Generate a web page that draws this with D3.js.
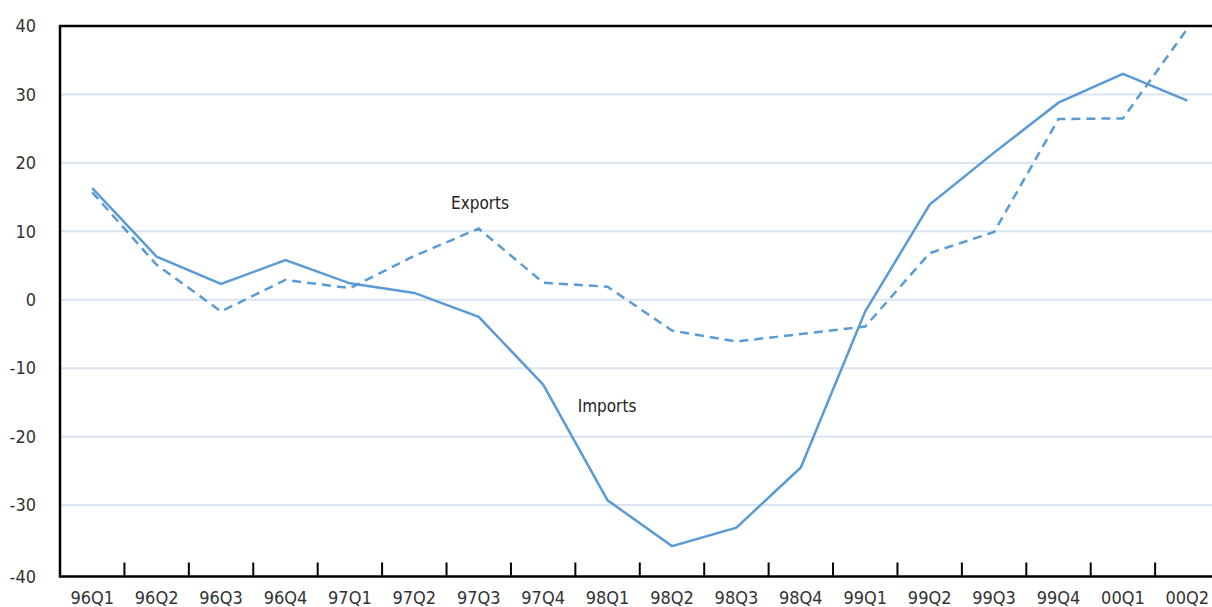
<!DOCTYPE html>
<html>
<head>
<meta charset="utf-8">
<script src="https://cdn.jsdelivr.net/npm/d3@7"></script>
<style>
  body { margin: 0; background: #fff; }
  svg { display: block; font-family: "Liberation Sans Narrow", "Arial Narrow", "DejaVu Sans Condensed", sans-serif; }
</style>
</head>
<body>
<svg width="1212" height="607"></svg>
<script>
// quarters on the x axis
var quarters = ["96Q1","96Q2","96Q3","96Q4","97Q1","97Q2","97Q3","97Q4",
  "98Q1","98Q2","98Q3","98Q4","99Q1","99Q2","99Q3","99Q4","00Q1","00Q2"];

// growth rates
var imports = [16.3, 6.3, 2.3, 5.8, 2.4, 1.0, -2.5, -12.4, -29.3, -36.0, -33.3, -24.5, -1.7, 13.9, 21.5, 28.8, 33.0, 29.1];
var exports = [15.7, 5.1, -1.7, 2.9, 1.7, 6.4, 10.4, 2.5, 1.9, -4.5, -6.1, -5.0, -3.9, 6.8, 9.9, 26.4, 26.5, 39.6];

var yTicks = [40, 30, 20, 10, 0, -10, -20, -30, -40];
var gridTicks = [30, 20, 10, 0, -10, -20, -30];

var svg = d3.select("svg"),
  margin = {top: 26, left: 60},
  plotBottom = 573.5;

var x = d3.scaleBand().domain(quarters).range([margin.left, margin.left + 18 * 64.42]),
  y = d3.scaleLinear().domain([-40, 40]).range([plotBottom, margin.top]);

var axisY = y(-40) + 3; // the axis line sits a little under the -40 value
var lineColor = "#5b9bd5";

// gridlines
svg.append("g")
  .selectAll("line")
  .data(gridTicks)
  .enter().append("line")
  .attr("x1", margin.left)
  .attr("x2", 1212)
  .attr("y1", function(d) { return y(d); })
  .attr("y2", function(d) { return y(d); })
  .attr("stroke", "#dbe5f1")
  .attr("stroke-width", 2);

// y labels
svg.append("g")
  .selectAll("text")
  .data(yTicks)
  .enter().append("text")
  .attr("x", 36)
  .attr("y", function(d) { return d == -40 ? axisY : y(d); })
  .attr("dy", "0.35em")
  .attr("text-anchor", "end")
  .attr("fill", "#333")
  .style("font-size", "18px")
  .text(function(d) { return d; });

// x labels
svg.append("g")
  .selectAll("text")
  .data(quarters)
  .enter().append("text")
  .attr("x", function(d) { return x(d) + x.bandwidth() / 2; })
  .attr("y", 604)
  .attr("text-anchor", "middle")
  .attr("fill", "#333")
  .style("font-size", "18px")
  .text(function(d) { return d; });

// tick marks between quarters, pointing up
svg.append("g")
  .selectAll("line")
  .data(quarters.slice(1))
  .enter().append("line")
  .attr("x1", function(d) { return x(d); })
  .attr("x2", function(d) { return x(d); })
  .attr("y1", axisY)
  .attr("y2", axisY - 14)
  .attr("stroke", "#000")
  .attr("stroke-width", 2);

// frame: left, top, bottom
svg.append("path")
  .attr("d", "M1212," + y(40) + "H" + margin.left + "V" + axisY + "H1212")
  .attr("fill", "none")
  .attr("stroke", "#000")
  .attr("stroke-width", 2.5);

var line = d3.line()
  .x(function(d, i) { return x(quarters[i]) + x.bandwidth() / 2; })
  .y(function(d) { return y(d); });

svg.append("path")
  .datum(imports)
  .attr("d", line)
  .attr("fill", "none")
  .attr("stroke", lineColor)
  .attr("stroke-width", 2.5);

svg.append("path")
  .datum(exports)
  .attr("d", line)
  .attr("fill", "none")
  .attr("stroke", lineColor)
  .attr("stroke-width", 2.5)
  .attr("stroke-dasharray", "9,6");

// series labels
svg.append("text")
  .attr("x", 480)
  .attr("y", 209)
  .attr("text-anchor", "middle")
  .attr("fill", "#222")
  .style("font-size", "17px")
  .text("Exports");

svg.append("text")
  .attr("x", 607)
  .attr("y", 412)
  .attr("text-anchor", "middle")
  .attr("fill", "#222")
  .style("font-size", "17px")
  .text("Imports");
</script>
</body>
</html>
